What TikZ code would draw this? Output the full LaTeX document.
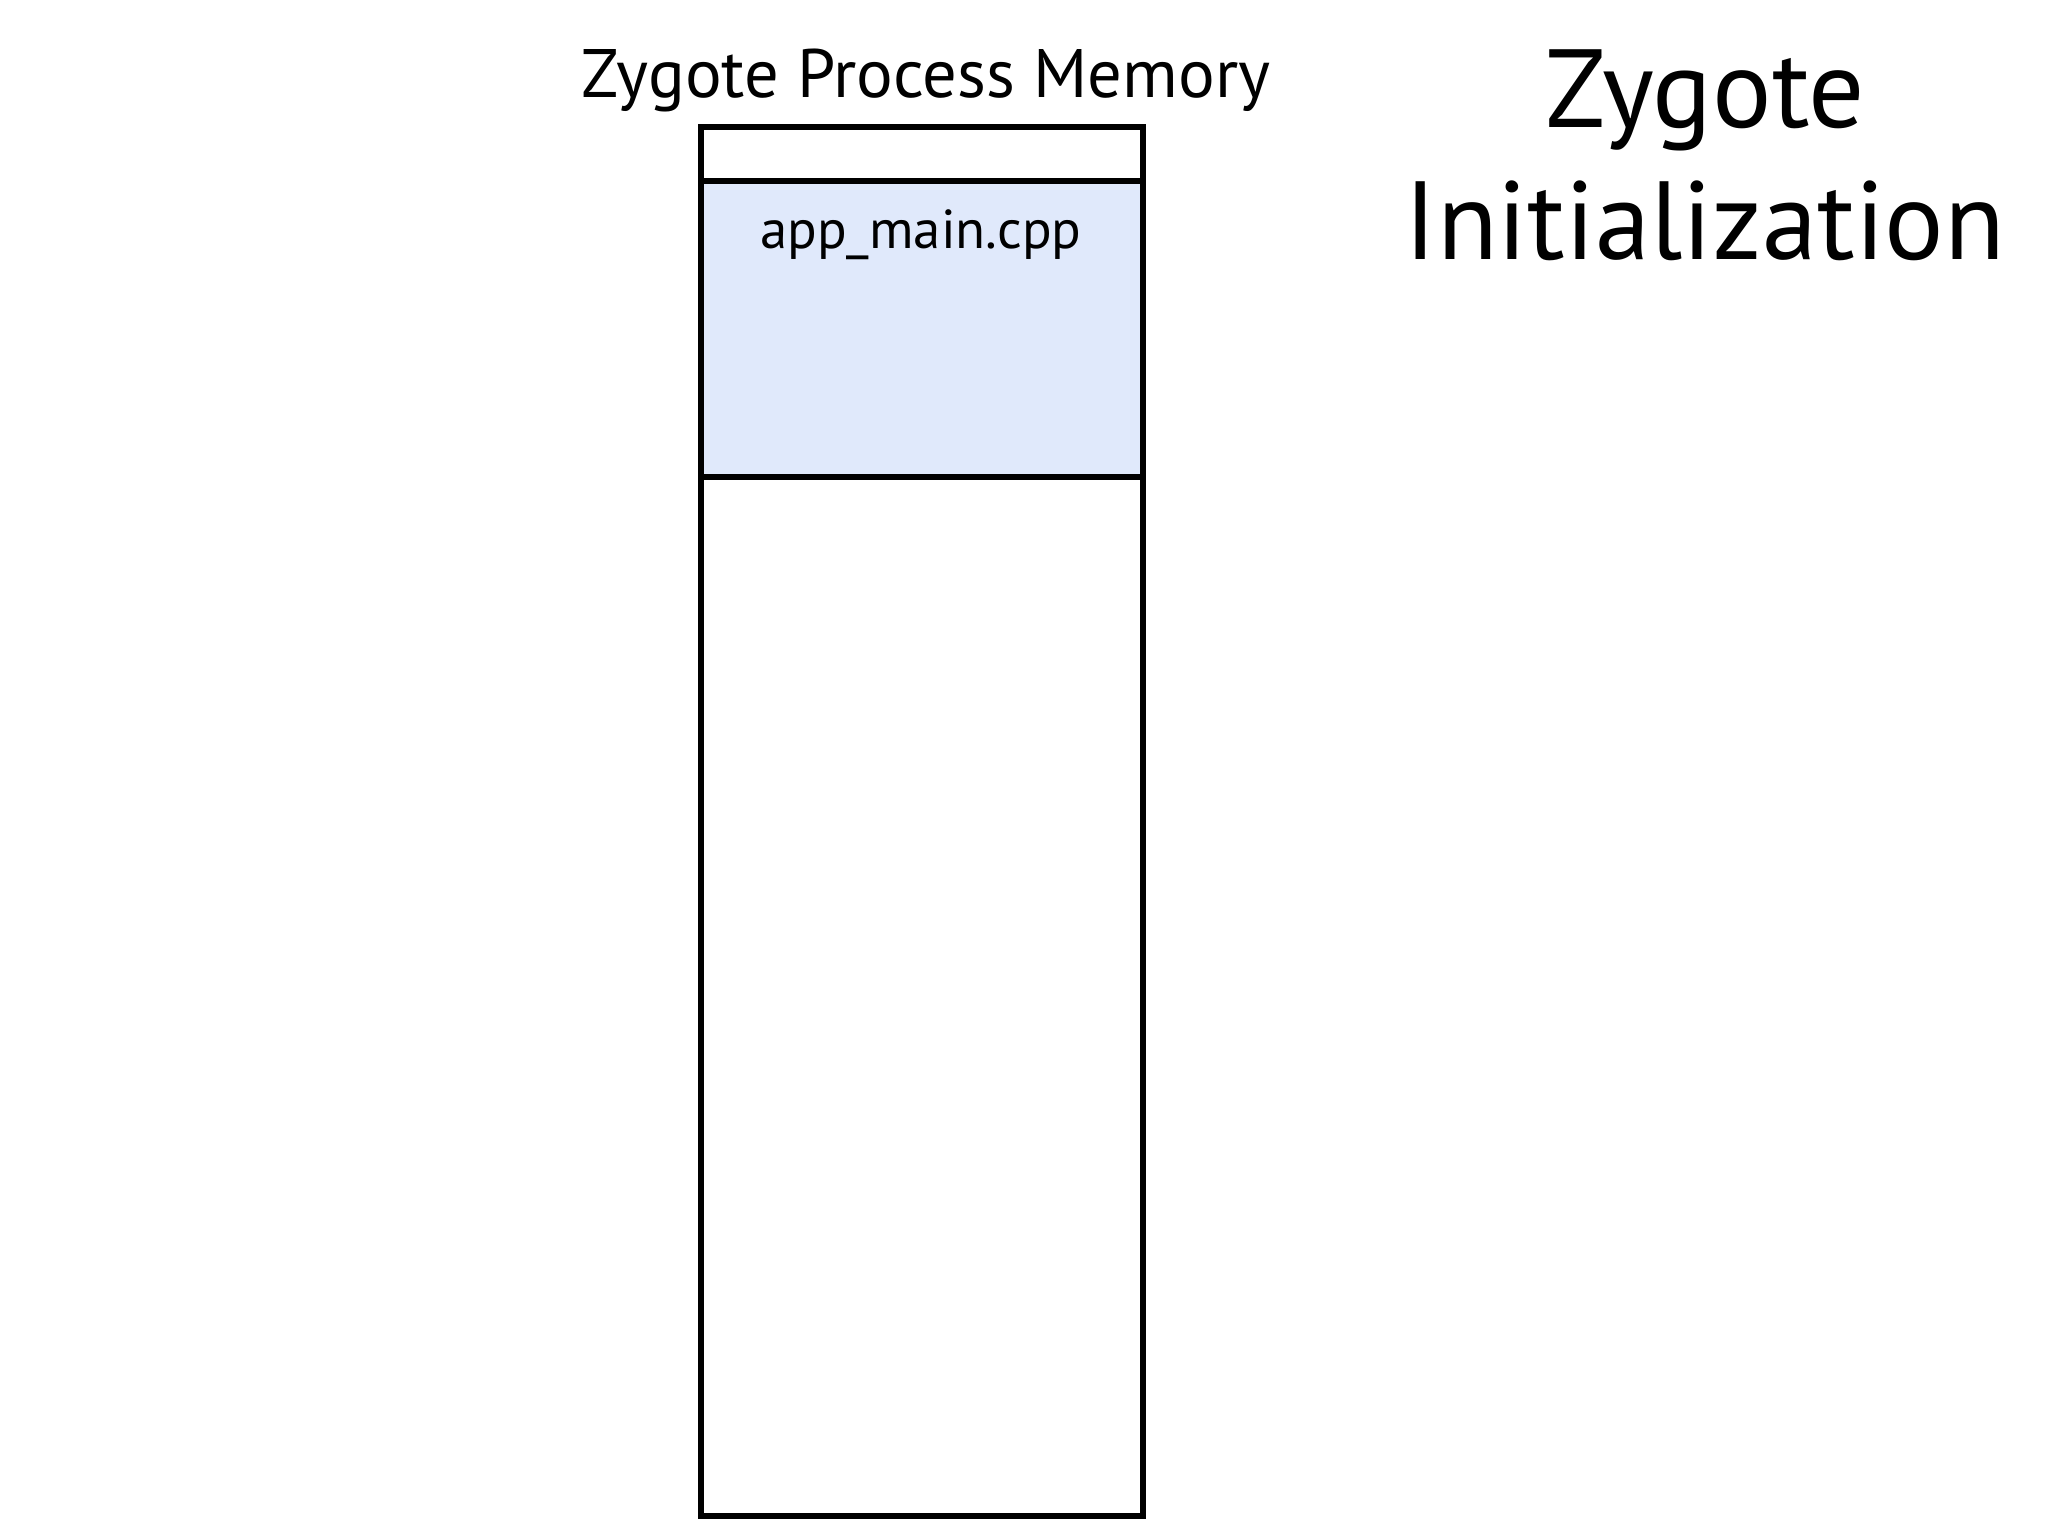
\documentclass[tikz,border=0pt]{standalone}
\usepackage{fontspec}
\setmainfont{PT Sans}
\definecolor{memfill}{RGB}{224,233,251}
\newcommand{\memfont}{\fontsize{19.5}{23}\selectfont}
\newcommand{\namefont}{\fontsize{15.6}{19}\selectfont}
\newcommand{\headfont}{\fontsize{31.6}{36}\selectfont}
\begin{document}
\begin{tikzpicture}
  [x=0.01cm,y=-0.01cm,
   seg/.style={draw=black,line width=1.7pt,minimum width=4.415cm,inner sep=0pt}]
    \useasboundingbox (0,0) rectangle (2048,1536);

    \node (slot)    [seg,minimum height=0.545cm]            at (922.25,154.25) {};
    \node (appmain) [seg,fill=memfill,minimum height=2.955cm] at (922.25,329.25) {};
    \node (heap)    [seg,minimum height=10.39cm]            at (922.25,996.5)  {};

    \node (appname) [font=\namefont,anchor=base] at (921,248) {app\_main.cpp};
    \node (memtitle)[font=\memfont,anchor=base] at (926,97)  {Zygote Process Memory};

    \node (head1) [font=\headfont,anchor=base] at (1705,127) {Zygote};
    \node (head2) [font=\headfont,anchor=base] at (1705,259) {Initialization};
  \end{tikzpicture}
\end{document}
